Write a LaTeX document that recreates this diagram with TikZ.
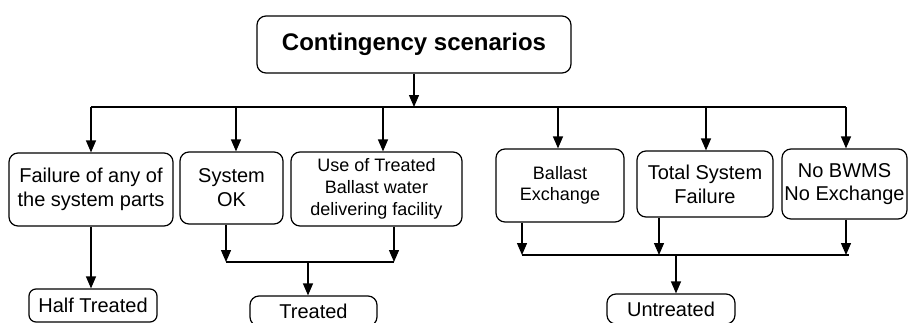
\documentclass[tikz,border=0pt]{standalone}
\usepackage{fontspec}
\setmainfont{Liberation Sans}
\usetikzlibrary{arrows.meta}
\begin{document}
\begin{tikzpicture}[x=1pt,y=-1pt,
  box/.style={draw, line width=1.2pt, rounded corners=9pt, align=center, inner sep=0pt},
  twenty/.style={font=\fontsize{20}{24}\selectfont},
  arr/.style={line width=1.3pt, -{Triangle[width=10pt,length=12pt]}},
  ln/.style={line width=1.3pt}]
\clip (0,0) rectangle (908,322);
\fill[white] (0,0) rectangle (908,322);
% nodes
\node[box, minimum width=314pt, minimum height=57pt, font=\bfseries\fontsize{24}{29}\selectfont] (top) at (414,44.5) {Contingency scenarios};
\node[box, twenty, minimum width=164pt, minimum height=73pt] (b1) at (91,189.5) {Failure of any of\\the system parts};
\node[box, twenty, minimum width=103pt, minimum height=72pt] (b2) at (231.5,188) {System\\OK};
\node[box, font=\fontsize{18}{22}\selectfont, minimum width=171pt, minimum height=74pt] (b3) at (376.5,189) {Use of Treated\\Ballast water\\delivering facility};
\node[box, font=\fontsize{18}{21}\selectfont, minimum width=128pt, minimum height=73pt] (b4) at (560,185.5) {Ballast\\Exchange};
\node[box, twenty, minimum width=136pt, minimum height=66pt] (b5) at (705,184) {Total System\\Failure};
\node[box, font=\fontsize{20}{23}\selectfont, minimum width=125pt, minimum height=70pt] (b6) at (844.5,184) {No BWMS\\No Exchange};
\node[box, twenty, rounded corners=7pt, minimum width=128pt, minimum height=33pt] (half) at (93,305.5) {Half Treated};
\node[box, twenty, minimum width=127pt, minimum height=30pt] (treated) at (313.5,311) {Treated};
\node[box, twenty, minimum width=128pt, minimum height=30pt] (untreated) at (671,309) {Untreated};
% top bus
\coordinate (busL) at (91,107);
\coordinate (busR) at (846,107);
\coordinate (d2) at (236,107);
\coordinate (d3) at (383,107);
\coordinate (d4) at (558,107);
\coordinate (d5) at (706,107);
\draw[arr] (top.south) -- (top.south |- busL);
\draw[ln] (busL) -- (busR);
\draw[arr] (busL) -- (busL |- b1.north);
\draw[arr] (d2) -- (d2 |- b2.north);
\draw[arr] (d3) -- (d3 |- b3.north);
\draw[arr] (d4) -- (d4 |- b4.north);
\draw[arr] (d5) -- (d5 |- b5.north);
\draw[arr] (busR) -- (busR |- b6.north);
% half treated
\draw[arr] (b1.south) -- (b1.south |- half.north);
% treated merge
\coordinate (mTL) at (226,262);
\coordinate (mTR) at (394,262);
\coordinate (mTC) at (308,262);
\draw[arr] (mTL |- b2.south) -- (mTL);
\draw[arr] (mTR |- b3.south) -- (mTR);
\draw[ln] (mTL) -- (mTR);
\draw[arr] (mTC) -- (mTC |- treated.north);
% untreated merge
\coordinate (mU1) at (522,255);
\coordinate (mU2) at (659,255);
\coordinate (mU3) at (846,255);
\coordinate (mUR) at (849,255);
\coordinate (mUC) at (676,255);
\draw[arr] (mU1 |- b4.south) -- (mU1);
\draw[arr] (mU2 |- b5.south) -- (mU2);
\draw[arr] (mU3 |- b6.south) -- (mU3);
\draw[ln] (mU1) -- (mUR);
\draw[arr] (mUC) -- (mUC |- untreated.north);
\end{tikzpicture}
\end{document}
